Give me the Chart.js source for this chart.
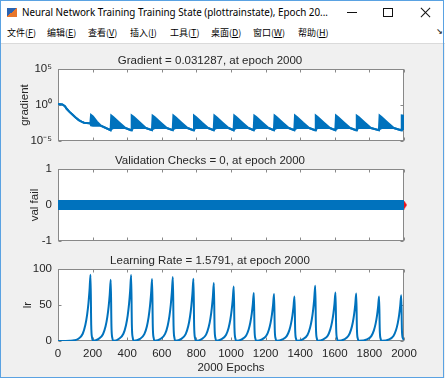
<!DOCTYPE html>
<html>
<head>
<meta charset="utf-8">
<script src="https://cdn.jsdelivr.net/npm/chart.js@4.4.1/dist/chart.umd.min.js"></script>
<style>
  html, body { margin: 0; padding: 0; background: #fff; }
  #win { position: relative; width: 445px; height: 378px; background: #f0f0f0; overflow: hidden; }
  #titlebar { position: absolute; left: 0; top: 0; width: 445px; height: 26px; background: #fff; }
  #logo { position: absolute; left: 7px; top: 8px; width: 10px; height: 9px;
          background: linear-gradient(140deg, #2a63b0 0 48%, #e8762b 48% 100%); }
  #wtitle { position: absolute; left: 22px; top: 5px; font: 10px "Noto Sans", sans-serif; color: #000;
            white-space: nowrap; transform-origin: left center; }
  #bmin { position: absolute; left: 347px; top: 12px; width: 10px; height: 1px; background: #111; }
  #bmax { position: absolute; left: 383px; top: 8px; width: 8px; height: 7px; border: 1px solid #111; }
  .bx { position: absolute; left: 419px; top: 12px; width: 13px; height: 1px; background: #111; }
  #menubar { position: absolute; left: 0; top: 26px; width: 445px; height: 17px; background: #fff;
             border-bottom: 1px solid #dadada; }
  .mi { position: absolute; top: 0; line-height: 15px; font: 9px "Noto Sans CJK SC", sans-serif; color: #000; }
  #dock { position: absolute; left: 436px; top: 1px; font: bold 8px "DejaVu Sans", sans-serif; color: #333; }
  canvas { position: absolute; left: 16px; }
  #gradChart { top: 50px; }
  #valChart { top: 150px; }
  #lrChart { top: 250px; }
  #frame { position: absolute; left: 0; top: 0; width: 444px; height: 378px; box-sizing: border-box;
           border: 1px solid #5aa2e2; pointer-events: none; }
</style>
</head>
<body>
<div id="win">
  <div id="titlebar">
    <div id="logo"></div>
    <div id="wtitle">Neural Network Training Training State (plottrainstate), Epoch 20...</div>
    <div id="bmin"></div>
    <div id="bmax"></div>
    <div class="bx" style="transform: rotate(45deg)"></div>
    <div class="bx" style="transform: rotate(-45deg)"></div>
  </div>
  <div id="menubar">
    <span class="mi" style="left:7px">文件(<u>F</u>)</span>
    <span class="mi" style="left:47px">编辑(<u>E</u>)</span>
    <span class="mi" style="left:88px">查看(<u>V</u>)</span>
    <span class="mi" style="left:130px">插入(<u>I</u>)</span>
    <span class="mi" style="left:170px">工具(<u>T</u>)</span>
    <span class="mi" style="left:211px">桌面(<u>D</u>)</span>
    <span class="mi" style="left:253px">窗口(<u>W</u>)</span>
    <span class="mi" style="left:298px">帮助(<u>H</u>)</span>
    <span id="dock">↘</span>
  </div>
  <canvas id="gradChart" width="429" height="105"></canvas>
  <canvas id="valChart" width="429" height="105"></canvas>
  <canvas id="lrChart" width="429" height="128"></canvas>
  <div id="frame"></div>
</div>

<script>
// 标题
const gradTitle = 'Gradient = 0.031287, at epoch 2000';
const valTitle = 'Validation Checks = 0, at epoch 2000';
const lrTitle = 'Learning Rate = 1.5791, at epoch 2000';
const xTitle = '2000 Epochs';

// 刻度
const epochTicks = [0, 200, 400, 600, 800, 1000, 1200, 1400, 1600, 1800, 2000];
const gradTicks = [1e-5, 1, 1e5];
const gradTickLabels = ['10⁻⁵', '10⁰', '10⁵'];
const valTicks = [-1, 0, 1];
const lrTicks = [0, 50, 100];

// gradient: upper / lower envelope of the oscillating curve
const gradEpochs = [
  0, 25, 40, 50, 65, 80, 100, 120, 136, 150, 187,
  191, 202, 225, 248,
  304, 308, 319, 355, 390,
  422, 426, 437, 473, 508,
  543, 547, 558, 594, 629,
  663, 667, 678, 714, 749,
  782, 786, 797, 833, 868,
  900, 904, 915, 951, 986,
  1015, 1019, 1030, 1066, 1101,
  1131, 1135, 1146, 1182, 1217,
  1248, 1252, 1263, 1299, 1334,
  1366, 1370, 1381, 1417, 1452,
  1486, 1490, 1501, 1537, 1572,
  1603, 1607, 1618, 1654, 1689,
  1723, 1727, 1738, 1774, 1809,
  1855, 1859, 1870, 1906, 1941,
  1983, 1987, 2000
];
const gradUpper = [
  1.4, 1.2, 0.7, 0.3, 0.12, 0.055, 0.02, 0.008, 0.005, 0.0035, 0.0028,
  0.042, 0.026, 0.005, 0.0013,
  3.2e-4, 0.035, 0.022, 0.0035, 6.3e-4,
  3.2e-4, 0.036, 0.023, 0.0036, 6.3e-4,
  3.2e-4, 0.034, 0.022, 0.0035, 6.3e-4,
  3.2e-4, 0.035, 0.022, 0.0035, 6.3e-4,
  3.2e-4, 0.035, 0.022, 0.0034, 6.3e-4,
  3.2e-4, 0.034, 0.021, 0.0035, 6.3e-4,
  3.2e-4, 0.035, 0.022, 0.0035, 6.3e-4,
  3.2e-4, 0.034, 0.022, 0.0035, 6.3e-4,
  3.2e-4, 0.035, 0.022, 0.0035, 6.3e-4,
  3.2e-4, 0.034, 0.021, 0.0034, 6.3e-4,
  3.2e-4, 0.035, 0.022, 0.0035, 6.3e-4,
  3.2e-4, 0.035, 0.022, 0.0035, 6.3e-4,
  3.2e-4, 0.034, 0.022, 0.0035, 6.3e-4,
  3.2e-4, 0.035, 0.022, 0.0035, 6.3e-4,
  3.2e-4, 0.035, 0.031
];
const gradLower = [
  1.4, 1.2, 0.7, 0.3, 0.12, 0.055, 0.02, 0.008, 0.005, 0.0035, 0.0028,
  0.0015, 0.0013, 0.0013, 0.0013,
  3.2e-4, 4.5e-4, 6.3e-4, 6.3e-4, 6.3e-4,
  3.2e-4, 4.5e-4, 6.3e-4, 6.3e-4, 6.3e-4,
  3.2e-4, 4.5e-4, 6.3e-4, 6.3e-4, 6.3e-4,
  3.2e-4, 4.5e-4, 6.3e-4, 6.3e-4, 6.3e-4,
  3.2e-4, 4.5e-4, 6.3e-4, 6.3e-4, 6.3e-4,
  3.2e-4, 4.5e-4, 6.3e-4, 6.3e-4, 6.3e-4,
  3.2e-4, 4.5e-4, 6.3e-4, 6.3e-4, 6.3e-4,
  3.2e-4, 4.5e-4, 6.3e-4, 6.3e-4, 6.3e-4,
  3.2e-4, 4.5e-4, 6.3e-4, 6.3e-4, 6.3e-4,
  3.2e-4, 4.5e-4, 6.3e-4, 6.3e-4, 6.3e-4,
  3.2e-4, 4.5e-4, 6.3e-4, 6.3e-4, 6.3e-4,
  3.2e-4, 4.5e-4, 6.3e-4, 6.3e-4, 6.3e-4,
  3.2e-4, 4.5e-4, 6.3e-4, 6.3e-4, 6.3e-4,
  3.2e-4, 4.5e-4, 6.3e-4, 6.3e-4, 6.3e-4,
  3.2e-4, 4.5e-4, 4.5e-4
];

// validation checks
const valEpochs = [0, 250, 500, 750, 1000, 1250, 1500, 1750, 2000];
const valFail = [0, 0, 0, 0, 0, 0, 0, 0, 0];
const bestEpoch = 2000;

// learning rate
const lrEpochs = [
  0, 40, 70, 95,
  118, 143, 158, 168, 176, 182, 188, 192, 197, 204,
  235, 260, 275, 285, 293, 299, 305, 309, 314, 321,
  353, 378, 393, 403, 411, 417, 423, 427, 432, 439,
  474, 499, 514, 524, 532, 538, 544, 548, 553, 560,
  594, 619, 634, 644, 652, 658, 664, 668, 673, 680,
  713, 738, 753, 763, 771, 777, 783, 787, 792, 799,
  831, 856, 871, 881, 889, 895, 901, 905, 910, 917,
  946, 971, 986, 996, 1004, 1010, 1016, 1020, 1025, 1032,
  1062, 1087, 1102, 1112, 1120, 1126, 1132, 1136, 1141, 1148,
  1179, 1204, 1219, 1229, 1237, 1243, 1249, 1253, 1258, 1265,
  1297, 1322, 1337, 1347, 1355, 1361, 1367, 1371, 1376, 1383,
  1417, 1442, 1457, 1467, 1475, 1481, 1487, 1491, 1496, 1503,
  1534, 1559, 1574, 1584, 1592, 1598, 1604, 1608, 1613, 1620,
  1654, 1679, 1694, 1704, 1712, 1718, 1724, 1728, 1733, 1740,
  1786, 1811, 1826, 1836, 1844, 1850, 1856, 1860, 1865, 1872,
  1914, 1939, 1954, 1964, 1972, 1978, 1984, 1988, 1993, 2000
];
const lrValues = [
  0.01, 0.07, 0.3, 1.0,
  3.2, 10.1, 22.1, 35.9, 52.4, 69.9, 92, 22.1, 4.6, 0.37,
  3.0, 9.4, 20.4, 33.2, 48.5, 64.6, 85, 20.4, 4.3, 0.34,
  3.2, 10.1, 22.0, 35.7, 52.2, 69.6, 91.6, 22.0, 4.6, 0.37,
  3.0, 9.5, 20.6, 33.5, 49.0, 65.4, 86, 20.6, 4.3, 0.34,
  3.1, 9.8, 21.3, 34.6, 50.6, 67.5, 88.8, 21.3, 4.4, 0.36,
  3.0, 9.5, 20.7, 33.7, 49.2, 65.7, 86.4, 20.7, 4.3, 0.35,
  2.8, 8.8, 19.3, 31.4, 45.8, 61.1, 80.4, 19.3, 4.0, 0.32,
  2.6, 8.3, 18.2, 29.5, 43.1, 57.5, 75.7, 18.2, 3.8, 0.30,
  2.3, 7.3, 16.0, 26.1, 38.1, 50.8, 66.8, 16.0, 3.3, 0.27,
  2.3, 7.2, 15.7, 25.5, 37.3, 49.7, 65.4, 15.7, 3.3, 0.26,
  2.2, 6.8, 14.8, 24.1, 35.2, 46.9, 61.7, 14.8, 3.1, 0.25,
  2.7, 8.4, 18.4, 29.9, 43.7, 58.2, 76.6, 18.4, 3.8, 0.31,
  2.4, 7.4, 16.2, 26.2, 38.4, 51.1, 67.3, 16.2, 3.4, 0.27,
  2.3, 7.2, 15.8, 25.7, 37.6, 50.1, 65.9, 15.8, 3.3, 0.26,
  2.2, 6.8, 14.8, 24.1, 35.2, 46.9, 61.7, 14.8, 3.1, 0.25,
  2.2, 7.0, 15.3, 24.8, 36.3, 48.3, 63.6, 15.3, 4.0, 1.58
];

const blue = '#0072bd';
const red = '#e8141c';
const textColor = '#262626';
const axisFont = { family: "'Liberation Sans', Arial, sans-serif", size: 11.5 };

function toXY(xs, ys) {
  return xs.map((x, i) => ({ x: x, y: ys[i] }));
}

// 白色绘图区 + MATLAB 风格的边框和内侧刻度
const matlabAxes = {
  id: 'matlabAxes',
  beforeDraw(chart) {
    const { ctx, chartArea: a } = chart;
    ctx.save();
    ctx.fillStyle = '#fff';
    ctx.fillRect(a.left, a.top, a.width, a.height);
    ctx.restore();
  },
  beforeDatasetsDraw(chart) {
    const { ctx, chartArea: a, scales } = chart;
    const L = Math.round(a.left) + 0.5, R = Math.round(a.right) - 0.5;
    const T = Math.round(a.top) + 0.5, B = Math.round(a.bottom) - 0.5;
    ctx.save();
    ctx.strokeStyle = '#888';
    ctx.lineWidth = 1;
    ctx.beginPath();
    scales.x.ticks.forEach(t => {
      const px = Math.round(scales.x.getPixelForValue(t.value)) + 0.5;
      ctx.moveTo(px, B); ctx.lineTo(px, B - 3);
      ctx.moveTo(px, T); ctx.lineTo(px, T + 3);
    });
    scales.y.ticks.forEach(t => {
      const py = Math.round(scales.y.getPixelForValue(t.value)) + 0.5;
      ctx.moveTo(L, py); ctx.lineTo(L + 3, py);
      ctx.moveTo(R, py); ctx.lineTo(R - 3, py);
    });
    ctx.stroke();
    ctx.strokeRect(L, T, R - L, B - T);
    ctx.restore();
  }
};

// x 轴高度: 无标签时留出 y 轴标签的下边距
function xAxis(showLabels) {
  return {
    type: 'linear', min: 0, max: 2000,
    afterBuildTicks: s => { s.ticks = epochTicks.map(v => ({ value: v })); },
    afterFit: s => { s.height = showLabels ? 37 : 14; },
    grid: { display: false, drawTicks: false },
    border: { display: false },
    ticks: { display: showLabels, padding: 6, color: textColor, font: axisFont, maxRotation: 0, autoSkip: false,
             callback: v => String(v) },
    title: { display: showLabels, text: xTitle, color: textColor, font: axisFont, padding: { top: 0, bottom: 3 } }
  };
}

function yAxis(ticks, label, titlePad, extra) {
  return Object.assign({
    type: 'linear', min: ticks[0], max: ticks[ticks.length - 1],
    afterBuildTicks: s => { s.ticks = ticks.map(v => ({ value: v })); },
    afterFit: s => { s.width = 42; },
    grid: { display: false, drawTicks: false },
    border: { display: false },
    ticks: { padding: 6, color: textColor, font: axisFont },
    title: { display: true, text: label, color: textColor, font: axisFont, padding: { top: titlePad } }
  }, extra || {});
}

function baseOptions(title, scales) {
  return {
    responsive: false,
    animation: false,
    layout: { padding: { left: 0, right: 41, top: 0, bottom: 0 } },
    plugins: {
      legend: { display: false },
      tooltip: { enabled: false },
      title: { display: true, text: title, color: textColor, font: Object.assign({ weight: 'normal' }, axisFont),
               padding: { top: 3.6, bottom: 1.6 } }
    },
    scales: scales
  };
}

// 梯度图
const gradY = yAxis(gradTicks, 'gradient', 2, { type: 'logarithmic' });
gradY.ticks = Object.assign({}, gradY.ticks, { callback: (v, i) => gradTickLabels[i] });
new Chart(document.getElementById('gradChart'), {
  type: 'line',
  data: {
    datasets: [{
      data: toXY(gradEpochs, gradUpper),
      borderColor: blue, backgroundColor: blue, borderWidth: 2, pointRadius: 0, fill: '+1'
    }, {
      data: toXY(gradEpochs, gradLower),
      borderColor: blue, borderWidth: 2, pointRadius: 0, fill: false
    }]
  },
  options: baseOptions(gradTitle, { x: xAxis(false), y: gradY }),
  plugins: [matlabAxes]
});

// 验证检查图
const diamond = document.createElement('canvas');
diamond.width = 6; diamond.height = 9;
const dctx = diamond.getContext('2d');
dctx.fillStyle = red;
dctx.beginPath();
dctx.moveTo(3, 0); dctx.lineTo(6, 4.5); dctx.lineTo(3, 9); dctx.lineTo(0, 4.5);
dctx.closePath(); dctx.fill();

new Chart(document.getElementById('valChart'), {
  type: 'line',
  data: {
    datasets: [{
      data: toXY(valEpochs, valFail),
      borderColor: blue, borderWidth: 10, borderCapStyle: 'butt', pointRadius: 0, clip: false
    }, {
      data: [{ x: bestEpoch, y: valFail[valFail.length - 1] }],
      showLine: false, pointStyle: diamond, pointRadius: 4, clip: false
    }]
  },
  options: baseOptions(valTitle, { x: xAxis(false), y: yAxis(valTicks, 'val fail', 12) }),
  plugins: [matlabAxes]
});

// 学习率图
new Chart(document.getElementById('lrChart'), {
  type: 'line',
  data: {
    datasets: [{
      data: toXY(lrEpochs, lrValues),
      borderColor: blue, borderWidth: 2, pointRadius: 0, cubicInterpolationMode: 'monotone'
    }]
  },
  options: baseOptions(lrTitle, { x: xAxis(true), y: yAxis(lrTicks, 'lr', 5) }),
  plugins: [matlabAxes]
});

// 窗口标题宽度
const wt = document.getElementById('wtitle');
wt.style.transform = 'scaleX(' + (306 / wt.getBoundingClientRect().width) + ')';
</script>
</body>
</html>
